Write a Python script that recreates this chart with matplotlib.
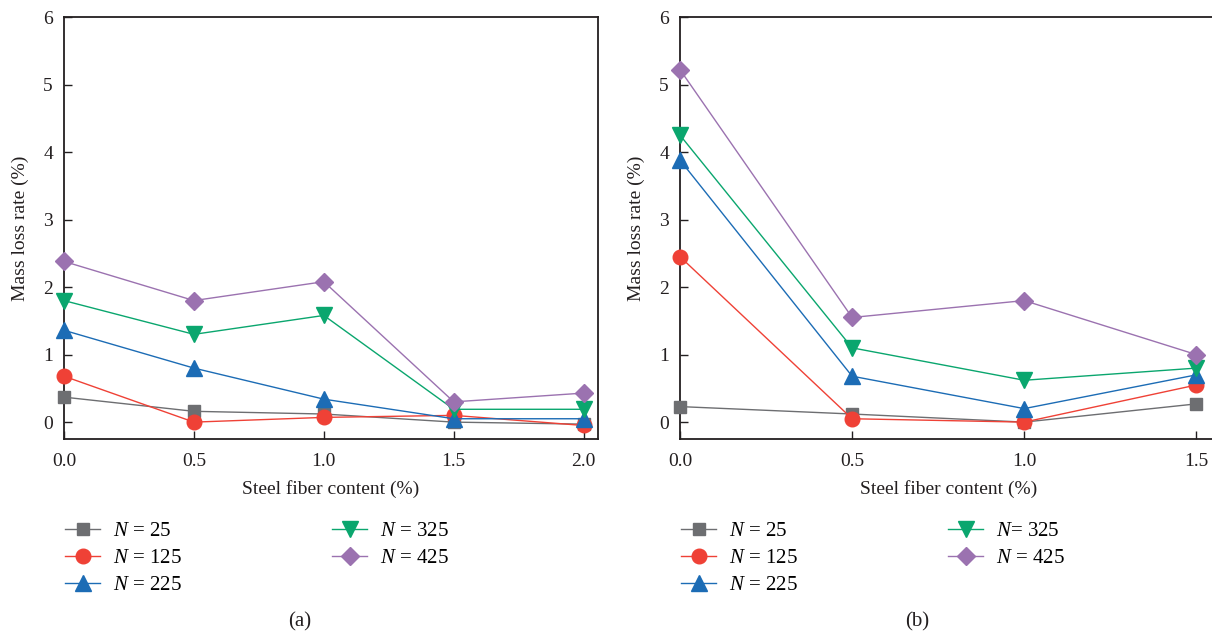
import matplotlib
matplotlib.use("Agg")
import matplotlib.pyplot as plt

plt.rcParams['font.family'] = ['Liberation Serif', 'DejaVu Serif']
plt.rcParams['mathtext.fontset'] = 'custom'
plt.rcParams['mathtext.it'] = 'Liberation Serif:italic'
plt.rcParams['mathtext.rm'] = 'Liberation Serif'

# steel fibre content (%) for each test group
fiber_a = [0.0, 0.5, 1.0, 1.5, 2.0]
fiber_b = [0.0, 0.5, 1.0, 1.5]

# mass loss rate (%) after N freeze-thaw cycles, group (a)
a_n25 = [0.37, 0.16, 0.12, 0.00, -0.03]
a_n125 = [0.68, 0.00, 0.07, 0.10, -0.05]
a_n225 = [1.36, 0.80, 0.34, 0.05, 0.05]
a_n325 = [1.80, 1.30, 1.58, 0.19, 0.19]
a_n425 = [2.38, 1.80, 2.08, 0.30, 0.43]

# mass loss rate (%), group (b)
b_n25 = [0.23, 0.12, 0.00, 0.27]
b_n125 = [2.45, 0.05, 0.00, 0.55]
b_n225 = [3.88, 0.68, 0.20, 0.70]
b_n325 = [4.25, 1.10, 0.62, 0.80]
b_n425 = [5.22, 1.55, 1.80, 1.00]

labels_a = ['$N$ = 25', '$N$ = 125', '$N$ = 225', '$N$ = 325', '$N$ = 425']
labels_b = ['$N$ = 25', '$N$ = 125', '$N$ = 225', '$N$= 325', '$N$ = 425']

colors = ['#6d6e71', '#ef4136', '#1c6cb5', '#0aa66e', '#9b72b0']
markers = ['s', 'o', '^', 'v', 'D']
msizes = [8.5, 10.5, 11, 11, 9.5]

fig = plt.figure(figsize=(12.12, 6.37), dpi=100)
ax_a = fig.add_axes([64 / 1212, 1 - 439 / 637, 534 / 1212, 422 / 637])
ax_b = fig.add_axes([680 / 1212, 1 - 439 / 637, 537 / 1212, 422 / 637])


def draw(ax, x, series, labels, xmax, legend_x):
    handles = []
    for y, lab, c, m, ms in zip(series, labels, colors, markers, msizes):
        h, = ax.plot(x, y, color=c, marker=m, markersize=ms, lw=1.0,
                     label=lab, clip_on=False, zorder=3)
        handles.append(h)
    ax.set_xlim(0, xmax)
    ax.set_ylim(-0.25, 6)
    ax.set_xticks(x)
    ax.set_xticklabels([f'{v:.1f}' for v in x])
    ax.set_yticks(range(0, 7))
    ax.tick_params(direction='in', length=6, width=1, labelsize=14,
                   colors='#231f20')
    ax.tick_params(axis='x', pad=10)
    ax.tick_params(axis='y', pad=8)
    for s in ax.spines.values():
        s.set_linewidth(1.3)
        s.set_color('#231f20')
    ax.set_xlabel('Steel fiber content (%)', fontsize=14, color='#231f20',
                  labelpad=7)
    ax.set_ylabel('Mass loss rate (%)', fontsize=14, color='#231f20',
                  labelpad=10)
    ax.legend(handles=handles, loc='upper left',
              bbox_to_anchor=(legend_x, 1 - 513 / 637),
              bbox_transform=fig.transFigure, ncol=2, frameon=False,
              fontsize=15, handlelength=1.68, handletextpad=0.62,
              columnspacing=7.2, labelspacing=0.36, borderaxespad=0)


draw(ax_a, fiber_a, [a_n25, a_n125, a_n225, a_n325, a_n425], labels_a,
     2.055, 57 / 1212)
draw(ax_b, fiber_b, [b_n25, b_n125, b_n225, b_n325, b_n425], labels_b,
     1.56, 673 / 1212)

fig.text(300 / 1212, 1 - 622 / 637, '(a)', ha='center', va='center',
         fontsize=15, color='#231f20')
fig.text(917 / 1212, 1 - 622 / 637, '(b)', ha='center', va='center',
         fontsize=15, color='#231f20')

fig.savefig('out.png', dpi=100)
